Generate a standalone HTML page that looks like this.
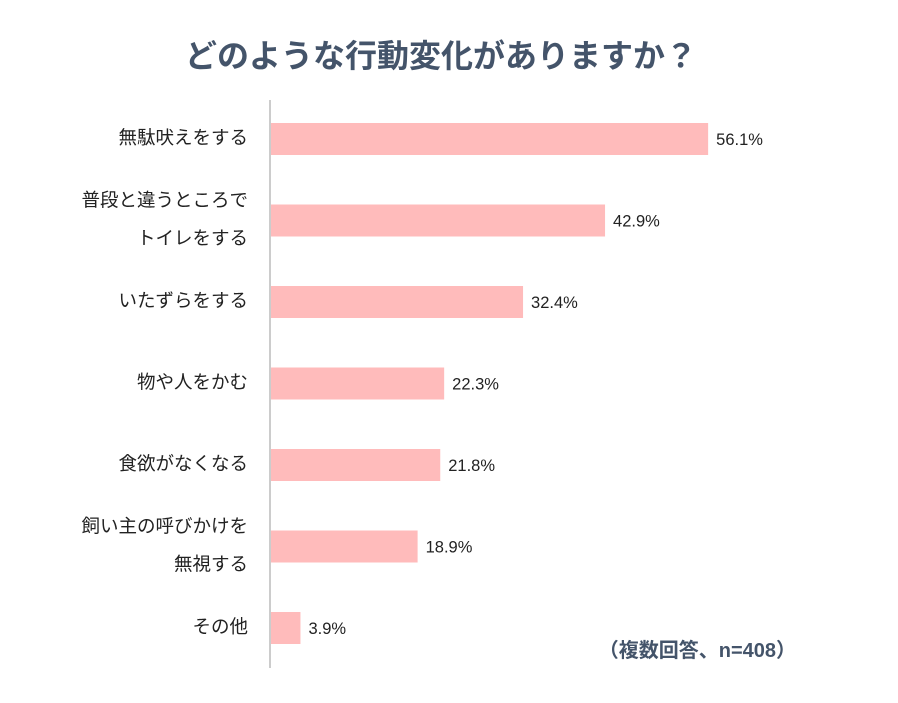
<!DOCTYPE html>
<html><head><meta charset="utf-8">
<style>
body{margin:0;background:#fff;width:898px;height:698px;overflow:hidden;font-family:"Liberation Sans","Noto Sans CJK JP",sans-serif;}
</style></head>
<body>
<svg id="chart" width="898" height="698" xmlns="http://www.w3.org/2000/svg">
<text x="441" y="67" text-anchor="middle" font-size="32" font-weight="bold" fill="#44546a" font-family="Liberation Sans, Noto Sans CJK JP, sans-serif">どのような行動変化がありますか？</text>
<line x1="270" y1="100" x2="270" y2="668" stroke="#999" stroke-width="1"/>
<g id="bars"></g>
<text x="796" y="657" text-anchor="end" font-size="20" font-weight="bold" fill="#44546a" font-family="Liberation Sans, Noto Sans CJK JP, sans-serif">（複数回答、n=408）</text>
</svg>
<script>
const categories=[["無駄吠えをする"],["普段と違うところで","トイレをする"],["いたずらをする"],["物や人をかむ"],["食欲がなくなる"],["飼い主の呼びかけを","無視する"],["その他"]];
const values=[56.1,42.9,32.4,22.3,21.8,18.9,3.9];
const valueLabels=["56.1%","42.9%","32.4%","22.3%","21.8%","18.9%","3.9%"];
const x0=270,pxPer=7.81,rowTop=139,rowStep=81.5,barH=32;
function xScale(v){return x0+v*pxPer;}
function yCenter(i){return rowTop+i*rowStep;}
const g=document.getElementById('bars');
const NS="http://www.w3.org/2000/svg";
values.forEach((v,i)=>{
  const cy=yCenter(i);
  const r=document.createElementNS(NS,'rect');
  
  
  r.setAttribute('x',x0+1);r.setAttribute('y',cy-barH/2);
  r.setAttribute('width',xScale(v)-x0-1);r.setAttribute('height',barH);
  r.setAttribute('fill','#ffbbbb');g.appendChild(r);
  const t=document.createElementNS(NS,'text');
  
  
  t.setAttribute('x',xScale(v)+8);t.setAttribute('y',cy+6);
  t.setAttribute('font-size','16.5');t.setAttribute('fill','#222');
  t.textContent=valueLabels[i];g.appendChild(t);
  const lines=categories[i];
  lines.forEach((s,j)=>{
    const c=document.createElementNS(NS,'text');
    
    
    c.setAttribute('x',248);
    c.setAttribute('y',cy+6+(j-(lines.length-1)/2)*38-1);
    c.setAttribute('text-anchor','end');
    c.setAttribute('font-size','18.5');c.setAttribute('fill','#222');
    c.textContent=s;g.appendChild(c);
  });
});
</script>
</body></html>
